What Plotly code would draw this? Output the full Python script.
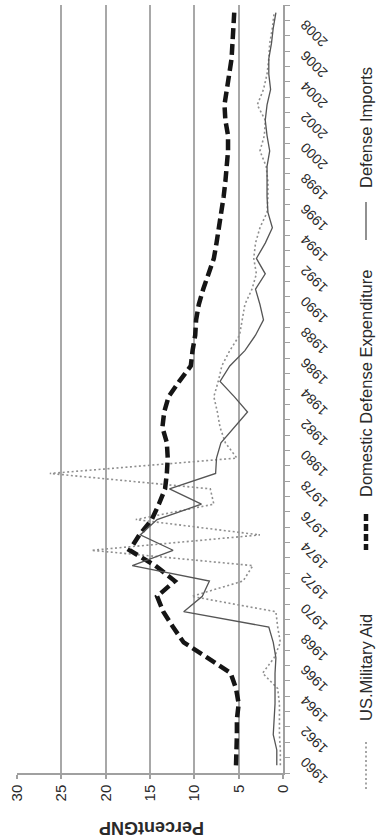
import plotly.graph_objects as go

years = list(range(1960, 2010))

us_military_aid = [0.3, 0.3, 0.4, 0.4, 0.4, 0.6, 2.3, 1.0, 0.3, 0.6,
                   0.8, 10.3, 4.5, 3.4, 21.6, 2.6, 16.6, 7.8, 8.2, 26.3,
                   5.2, 6.5, 7.1, 7.4, 7.8, 7.3, 6.9, 6.0, 4.9, 4.6,
                   4.3, 3.5, 3.0, 3.3, 3.1, 2.6, 1.8, 1.7, 1.7, 1.9,
                   2.6, 2.1, 2.0, 2.9, 2.2, 1.8, 1.6, 1.5, 1.2, 1.0]

domestic_defense = [5.3, 5.2, 5.2, 5.2, 5.0, 5.3, 5.9, 8.5, 11.2, 12.4,
                    13.5, 14.2, 12.2, 14.4, 17.3, 16.2, 14.8, 14.0, 13.3, 13.1,
                    13.0, 13.1, 13.6, 13.4, 12.9, 11.7, 10.4, 10.2, 9.9, 9.8,
                    9.5, 9.0, 8.4, 7.8, 7.5, 7.2, 6.9, 6.7, 6.5, 6.3,
                    6.2, 6.2, 6.5, 6.6, 6.3, 6.0, 5.8, 5.7, 5.6, 5.5]

defense_imports = [0.7, 0.7, 1.1, 1.0, 0.9, 0.9, 0.9, 0.8, 1.1, 1.6,
                   11.2, 9.1, 8.3, 17.0, 12.4, 16.1, 14.2, 9.2, 12.8, 7.6,
                   7.5, 7.0, 5.5, 4.0, 5.5, 7.1, 6.0, 4.3, 3.1, 2.2,
                   2.6, 3.1, 2.0, 3.0, 2.0, 1.2, 1.7, 1.8, 1.8, 1.8,
                   1.5, 1.8, 2.0, 1.8, 1.4, 1.6, 1.6, 1.3, 1.1, 0.8]

pct_ticks = [0, 5, 10, 15, 20, 25, 30]
year_ticks = list(range(1960, 2010, 2))

FONT = "Liberation Sans, Arial, sans-serif"
TXT = "#2a2a2a"

W, H = 379, 840
L, R, T, B = 17, 96, 5, 67
pw, ph = W - L - R, H - T - B


def px(x):
    return (x - L) / pw


def py(y):
    return (H - B - y) / ph


fig = go.Figure()
fig.add_trace(go.Scatter(x=us_military_aid, y=years, mode="lines", name="US.Military Aid",
                         line=dict(color="#8f8f8f", width=1.6, dash="2px,2.5px")))
fig.add_trace(go.Scatter(x=domestic_defense, y=years, mode="lines", name="Domestic Defense Expenditure",
                         line=dict(color="#151515", width=4.5, dash="11px,5px")))
fig.add_trace(go.Scatter(x=defense_imports, y=years, mode="lines", name="Defense Imports",
                         line=dict(color="#555555", width=1.3)))

fig.update_layout(
    width=W, height=H, showlegend=False,
    margin=dict(l=L, r=R, t=T, b=B, autoexpand=False),
    paper_bgcolor="white", plot_bgcolor="white",
    font=dict(family=FONT, color=TXT),
    xaxis=dict(range=[30, 0], tickvals=pct_ticks, ticktext=[str(v) for v in pct_ticks],
               tickangle=-90, tickfont=dict(size=15, color=TXT),
               showgrid=True, gridcolor="#a8a8a8", gridwidth=1.5, zeroline=False,
               showline=True, linecolor="#a0a0a0", linewidth=1.5,
               ticks="outside", ticklen=4, tickcolor="#a0a0a0", tickwidth=1.5),
    yaxis=dict(range=[1959.5, 2009.5], side="right", tickvals=year_ticks,
               ticktext=[str(v) for v in year_ticks], tickangle=-135,
               ticklabelstandoff=36, ticklabelshift=20,
               tickfont=dict(size=14, color=TXT), showgrid=False, zeroline=False,
               showline=True, linecolor="#a0a0a0", linewidth=1.5, ticks="",
               minor=dict(ticks="outside", ticklen=5, tick0=1959.5, dtick=1,
                          tickcolor="#a0a0a0", tickwidth=1.2, showgrid=False)),
)

# y-axis title (rotated chart)
fig.add_annotation(x=px(152), y=py(828), xref="paper", yref="paper", text="<b>PercentGNP</b>",
                   textangle=180, showarrow=False, font=dict(size=18, color=TXT),
                   xanchor="center", yanchor="middle")

# legend (rotated)
legend_items = [
    ("US.Military Aid", 668, (742, 790), dict(color="#8f8f8f", width=1.6, dash="2px,2.5px")),
    ("Domestic Defense Expenditure", 384, (514, 550), dict(color="#151515", width=4.5, dash="7px,3px")),
    ("Defense Imports", 128, (202, 240), dict(color="#555555", width=1.3)),
]
LX = 366
for label, cy, (y0, y1), ln in legend_items:
    fig.add_annotation(x=px(LX), y=py(cy), xref="paper", yref="paper", text=label,
                       textangle=-90, showarrow=False, font=dict(size=16.5, color=TXT),
                       xanchor="center", yanchor="middle")
    fig.add_shape(type="line", xref="paper", yref="paper",
                  x0=px(LX), x1=px(LX), y0=py(y0), y1=py(y1), line=ln)

fig.write_html("out.html", config={"displayModeBar": False},
               post_script="document.body.style.margin='0';document.body.style.padding='0';")
